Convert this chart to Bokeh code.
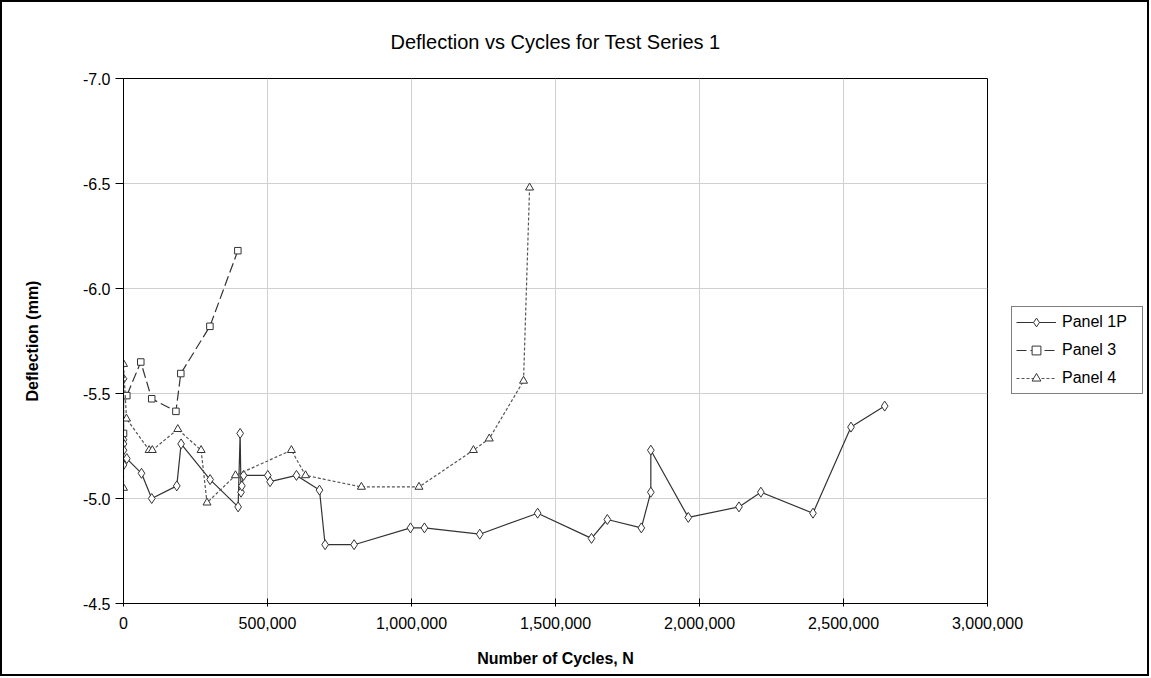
from bokeh.plotting import figure
from bokeh.models import Range1d, NumeralTickFormatter, FixedTicker, Legend, LegendItem
from bokeh.embed import file_html
from bokeh.resources import INLINE

# ---- data ----
p1_cycles = [0, 0, 0, 0, 0, 11500, 62500, 98000, 185000, 200000, 300700, 398000,
             405000, 408000, 411000, 417000, 501000, 509000, 600600, 680500, 700000,
             800700, 996500, 1045000, 1237000, 1438000, 1625000, 1680000, 1798000,
             1831000, 1831000, 1961000, 2137000, 2213000, 2394000, 2526000, 2643000]
p1_defl = [-5.57, -5.28, -5.26, -5.23, -5.16, -5.19, -5.12, -5.00, -5.06, -5.26, -5.09, -4.96,
           -5.31, -5.03, -5.06, -5.11, -5.11, -5.08, -5.11, -5.04, -4.78,
           -4.78, -4.86, -4.86, -4.83, -4.93, -4.81, -4.90, -4.86,
           -5.03, -5.23, -4.91, -4.96, -5.03, -4.93, -5.34, -5.44]

p3_cycles = [0, 0, 11500, 60000, 98000, 182000, 199000, 300000, 397000]
p3_defl = [-5.31, -5.49, -5.49, -5.65, -5.475, -5.415, -5.595, -5.82, -6.18]

p4_cycles = [0, 0, 10400, 89000, 100000, 188500, 269500, 290000, 388800, 583000,
             632000, 826000, 1026000, 1215000, 1270000, 1389000, 1410000]
p4_defl = [-5.05, -5.64, -5.38, -5.23, -5.23, -5.33, -5.23, -4.98, -5.11, -5.23,
           -5.11, -5.055, -5.055, -5.23, -5.285, -5.56, -6.48]

series_names = ["Panel 1P", "Panel 3", "Panel 4"]
x_ticks = [0, 500000, 1000000, 1500000, 2000000, 2500000, 3000000]
y_ticks = [-7.0, -6.5, -6.0, -5.5, -5.0, -4.5]

FONT = "Liberation Sans"
LINE = "#333333"

p = figure(width=1145, height=672, frame_width=864, frame_height=525,
           output_backend="svg", toolbar_location=None,
           x_range=Range1d(0, 3000000), y_range=Range1d(-4.5, -7.0),
           min_border_left=121, min_border_right=160, min_border_top=75, min_border_bottom=72,
           title="Deflection vs Cycles for Test Series 1")
p.styles = {"border": "2px solid black", "width": "1149px", "height": "676px",
            "overflow": "hidden"}

p.title.align = "center"
p.title.text_font = FONT
p.title.text_font_size = "20px"
p.title.text_font_style = "normal"
p.title.text_color = "black"
p.title.standoff = 52

p.outline_line_color = "black"
p.outline_line_width = 1
p.background_fill_color = "white"
p.border_fill_color = "white"

p.xgrid.grid_line_color = "#d0d0d0"
p.ygrid.grid_line_color = "#d0d0d0"
p.xgrid.ticker = FixedTicker(ticks=x_ticks)
p.ygrid.ticker = FixedTicker(ticks=y_ticks)

xa = p.xaxis[0]
xa.ticker = FixedTicker(ticks=x_ticks)
xa.formatter = NumeralTickFormatter(format="0,0")
xa.axis_label = "Number of Cycles, N"
xa.major_tick_in = 5
xa.major_tick_out = 3
xa.minor_tick_line_color = None
xa.major_label_standoff = 10
xa.axis_label_standoff = 18

ya = p.yaxis[0]
ya.ticker = FixedTicker(ticks=y_ticks)
ya.formatter = NumeralTickFormatter(format="0.0")
ya.axis_label = "Deflection (mm)"
ya.major_tick_in = 0
ya.major_tick_out = 8
ya.minor_tick_line_color = None
ya.major_label_standoff = 5
ya.axis_label_standoff = 39

for ax in (xa, ya):
    ax.axis_line_color = "black"
    ax.major_tick_line_color = "black"
    ax.major_label_text_font = FONT
    ax.major_label_text_font_size = "16px"
    ax.major_label_text_color = "black"
    ax.axis_label_text_font = FONT
    ax.axis_label_text_font_size = "16px"
    ax.axis_label_text_font_style = "bold"
    ax.axis_label_text_color = "black"

r1l = p.line(p1_cycles, p1_defl, line_color=LINE, line_width=1.2)
r1m = p.scatter(p1_cycles, p1_defl, marker="diamond", size=10,
                line_color=LINE, fill_color="white", line_width=1)
r3l = p.line(p3_cycles, p3_defl, line_color=LINE, line_width=1.2, line_dash="10 4")
r3m = p.scatter(p3_cycles, p3_defl, marker="square", size=6.5,
                line_color=LINE, fill_color="white", line_width=1)
r4l = p.line(p4_cycles, p4_defl, line_color="#555555", line_width=1.2, line_dash="3 2")
r4m = p.scatter(p4_cycles, p4_defl, marker="triangle", size=8,
                line_color=LINE, fill_color="white", line_width=1)

legend = Legend(items=[
    LegendItem(label=series_names[0], renderers=[r1l, r1m]),
    LegendItem(label=series_names[1], renderers=[r3l, r3m]),
    LegendItem(label=series_names[2], renderers=[r4l, r4m]),
], location=(24, 209))
legend.border_line_color = "black"
legend.border_line_width = 1
legend.background_fill_alpha = 1
legend.label_text_font = FONT
legend.label_text_font_size = "16px"
legend.label_text_color = "black"
legend.glyph_width = 40
legend.glyph_height = 22
legend.label_height = 22
legend.label_width = 76
legend.label_standoff = 6
legend.spacing = 6
legend.padding = 4
legend.margin = 0
p.add_layout(legend, "right")

open("out.html", "w").write(file_html(p, INLINE))
